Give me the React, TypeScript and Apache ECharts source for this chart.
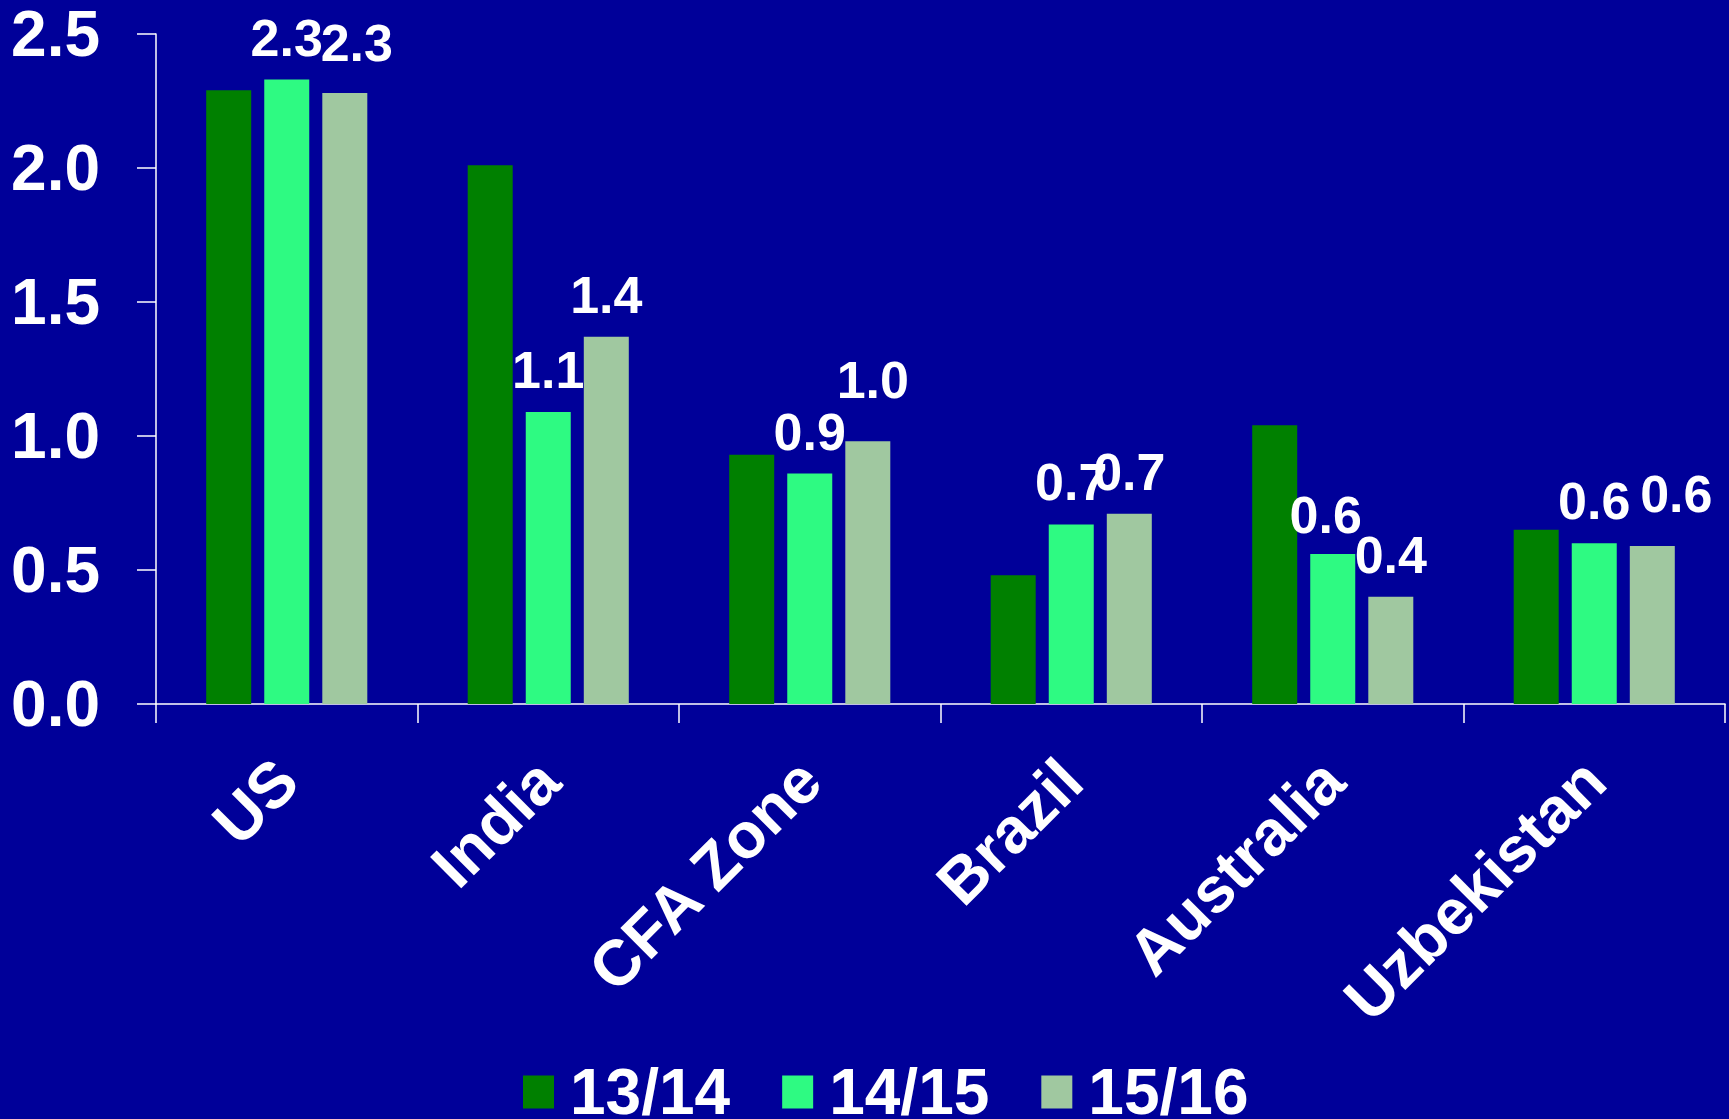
import React, { useEffect, useRef } from "react";
import * as echarts from "echarts";

const categories = ["US", "India", "CFA Zone", "Brazil", "Australia", "Uzbekistan"];
const seriesNames = ["13/14", "14/15", "15/16"];
const values1314 = [2.29, 2.01, 0.93, 0.48, 1.04, 0.65];
const values1415 = [2.33, 1.09, 0.86, 0.67, 0.56, 0.6];
const values1516 = [2.28, 1.37, 0.98, 0.71, 0.4, 0.59];
const yMin = 0;
const yMax = 2.5;
const yStep = 0.5;

// label nudges [dx, lift] to mimic the original's hand-placed labels
const nudge1415 = [[0, 0], [0, 0], [0, 0], [0, 0], [-7, -3], [0, 0]];
const nudge1516 = [[12, 8], [0, 0], [5, 19], [0, 0], [0, 0], [24, 10]];

const colors = ["#008000", "#2EFA82", "#A0C8A0"];
const FONT = "'Liberation Sans', Arial, Helvetica, sans-serif";

export default function App() {
  const ref = useRef<HTMLDivElement>(null);

  useEffect(() => {
    document.body.style.margin = "0";
    const chart = echarts.init(ref.current!, null, { renderer: "svg" });

    const labelStyle = {
      show: true,
      position: "top",
      distance: 16,
      color: "#ffffff",
      fontFamily: FONT,
      fontWeight: "bold",
      fontSize: 52,
      formatter: (p: any) => Number(p.value).toFixed(1),
    };

    const mk = (vals: number[], nudge: number[][] | null) =>
      vals.map((v, i) =>
        nudge
          ? { value: v, label: { offset: [nudge[i][0], -nudge[i][1]] } }
          : { value: v }
      );

    const allValues = [values1314, values1415, values1516];
    const nudges = [null, nudge1415, nudge1516];

    chart.setOption({
      animation: false,
      backgroundColor: "#000099",
      grid: { left: 156, right: 4, top: 34, bottom: 415, containLabel: false },
      legend: {
        data: seriesNames,
        left: 523,
        top: 1060,
        padding: 0,
        itemWidth: 31,
        itemHeight: 33,
        itemGap: 52,
        icon: "rect",
        textStyle: {
          color: "#ffffff",
          fontFamily: FONT,
          fontWeight: "bold",
          fontSize: 64,
          padding: [0, 0, 0, 11],
        },
      },
      xAxis: {
        type: "category",
        data: categories,
        boundaryGap: true,
        axisLine: { show: true, lineStyle: { color: "#ffffff", width: 1.5 } },
        axisTick: { show: true, length: 19, alignWithLabel: false, lineStyle: { color: "#ffffff", width: 1.5 } },
        axisLabel: {
          rotate: 45,
          margin: 66,
          interval: 0,
          color: "#ffffff",
          fontFamily: FONT,
          fontWeight: "bold",
          fontSize: 64,
        },
        splitLine: { show: false },
      },
      yAxis: {
        type: "value",
        min: yMin,
        max: yMax,
        interval: yStep,
        axisLine: { show: true, lineStyle: { color: "#ffffff", width: 1.5 } },
        axisTick: { show: true, length: 19, lineStyle: { color: "#ffffff", width: 1.5 } },
        axisLabel: {
          margin: 56,
          color: "#ffffff",
          fontFamily: FONT,
          fontWeight: "bold",
          fontSize: 64,
          formatter: (v: number) => v.toFixed(1),
        },
        splitLine: { show: false },
      },
      series: seriesNames.map((name, si) => ({
        name,
        type: "bar",
        barWidth: 45,
        barGap: "29%",
        itemStyle: { color: colors[si] },
        label: si === 0 ? { show: false } : labelStyle,
        data: mk(allValues[si], nudges[si]),
      })),
    });

    return () => chart.dispose();
  }, []);

  return <div ref={ref} style={{ width: 1729, height: 1119 }} />;
}
